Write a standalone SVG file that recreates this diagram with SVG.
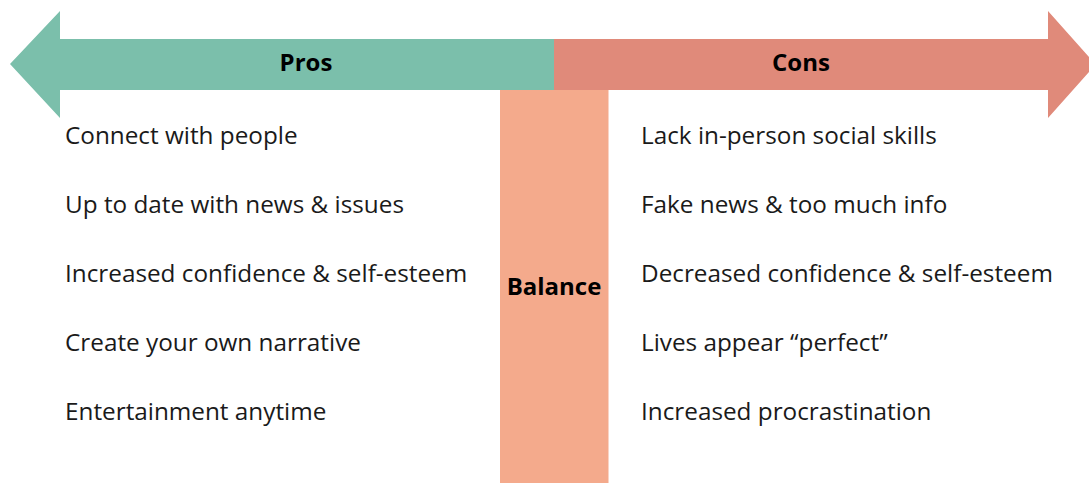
<svg xmlns="http://www.w3.org/2000/svg" width="1089" height="483" viewBox="0 0 1089 483">
<style>
.item{font-family:"Open Sans","Noto Sans",sans-serif;font-size:24.3px;fill:#1a1a1a}
.head{font-family:"Open Sans","Noto Sans",sans-serif;font-size:24px;font-weight:bold;fill:#000;text-anchor:middle}
</style>
<rect width="1089" height="483" fill="#fff"/>
<g id="balance">
<rect x="500" y="90" width="108.5" height="393" fill="#f4aa8c"/>
<text class="head" x="554" y="295">Balance</text>
</g>
<g id="pros">
<polygon points="10,64 60,11 60,39 554,39 554,90 60,90 60,118" fill="#7bbfab"/>
<text class="head" x="306" y="71">Pros</text>
</g>
<g id="cons">
<polygon points="554,39 1048,39 1048,11 1089,57 1089,72 1048,118 1048,90 554,90" fill="#e08a7a"/>
<text class="head" x="801" y="71">Cons</text>
</g>
<g id="pros-list">
<text class="item" x="65" y="143.5">Connect with people</text>
<text class="item" x="65" y="212.5">Up to date with news &amp; issues</text>
<text class="item" x="65" y="281.5">Increased confidence &amp; self-esteem</text>
<text class="item" x="65" y="350.5">Create your own narrative</text>
<text class="item" x="65" y="419.5">Entertainment anytime</text>
</g>
<g id="cons-list">
<text class="item" x="641" y="143.5">Lack in-person social skills</text>
<text class="item" x="641" y="212.5">Fake news &amp; too much info</text>
<text class="item" x="641" y="281.5">Decreased confidence &amp; self-esteem</text>
<text class="item" x="641" y="350.5">Lives appear “perfect”</text>
<text class="item" x="641" y="419.5">Increased procrastination</text>
</g>
</svg>
